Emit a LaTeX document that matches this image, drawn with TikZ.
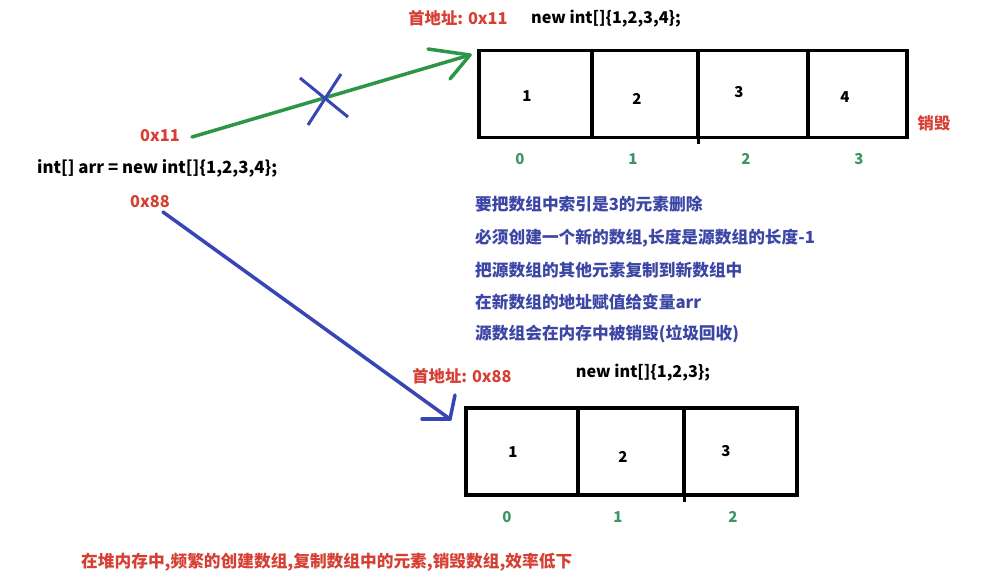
\documentclass[tikz,border=0pt]{standalone}
\usepackage{fontspec}
\setmainfont{Noto Sans CJK SC}
\definecolor{cred}{RGB}{214,64,52}
\definecolor{cgreen}{RGB}{60,150,100}
\definecolor{carrg}{RGB}{45,150,70}
\definecolor{cblue}{RGB}{60,70,165}
\definecolor{carrb}{RGB}{55,70,180}
\begin{document}
\begin{tikzpicture}[x=1pt,y=-1pt,
  cell/.style={draw=black,line width=3.5,minimum height=87,inner sep=0,outer sep=0},
  num/.style={font=\fontsize{15}{15}\selectfont\bfseries,inner sep=0},
  idx/.style={font=\fontsize{15}{15}\selectfont\bfseries,text=cgreen,inner sep=0},
  redt/.style={font=\fontsize{16.3}{16.3}\selectfont\bfseries,text=cred,inner sep=0},
  code/.style={font=\fontsize{16.2}{16.2}\selectfont\bfseries,text=black,inner sep=0},
  note/.style={font=\fontsize{16.7}{16.7}\selectfont\bfseries,text=cblue,inner sep=0,anchor=west},
  garrow/.style={draw=carrg,line width=3.5,line cap=round,line join=round},
  barrow/.style={draw=carrb,line width=3.5,line cap=round,line join=round}]
\useasboundingbox (0,0) rectangle (984,580);
\fill[white] (0,0) rectangle (984,580);
% top array
\node[cell,minimum width=113] (t0) at (535.5,94) {};
\node[cell,minimum width=106] (t1) at (645,94) {};
\node[cell,minimum width=110] (t2) at (753,94) {};
\node[cell,minimum width=99] (t3) at (857.5,94) {};
\draw[line width=3] (t2.south west) -- ++(0,7);
\node[num] (v0) at (527,96) {1};
\node[num] (v1) at (637,99) {2};
\node[num] (v2) at (739,92) {3};
\node[num] (v3) at (845,97) {4};
\node[idx] (i0) at (520,159) {0};
\node[idx] (i1) at (633,159) {1};
\node[idx] (i2) at (746,159) {2};
\node[idx] (i3) at (859,159) {3};
\node[redt] (destroy) at (934,123) {销毁};
\node[redt] (addr1) at (458,18) {首地址: 0x11};
\node[code] (new1) at (606,19) {new int[]\{1,2,3,4\};};
% left code
\node[redt] (p11) at (160,136) {0x11};
\node[code,anchor=west,font=\fontsize{16.8}{16.8}\selectfont\bfseries] (decl) at (37,168) {int[] arr = new int[]\{1,2,3,4\};};
\node[redt] (p88) at (150,202) {0x88};
% green arrow (crossed out)
\coordinate (gs) at (192,137);
\coordinate (gt) at (470,55);
\draw[garrow] (gs) -- (gt);
\draw[garrow] (gt) -- ++(-42,-6);
\draw[garrow] (gt) -- ++(-20,24);
\draw[draw=carrb,line width=3] (300,78) -- (348,117);
\draw[draw=carrb,line width=3] (341,74) -- (308,125);
% notes
\node[note] (n1) at (475,204) {要把数组中索引是3的元素删除};
\node[note] (n2) at (475,238) {必须创建一个新的数组,长度是源数组的长度-1};
\node[note] (n3) at (475,270) {把源数组的其他元素复制到新数组中};
\node[note] (n4) at (475,302) {在新数组的地址赋值给变量arr};
\node[note] (n5) at (475,334) {源数组会在内存中被销毁(垃圾回收)};
% blue arrow
\coordinate (bs) at (163,212);
\coordinate (bt) at (450,419);
\draw[barrow] (bs) -- (bt);
\draw[barrow] (bt) -- ++(-28,0);
\draw[barrow] (bt) -- ++(5,-24);
% bottom array
\node[cell,minimum width=112] (b0) at (522,451.5) {};
\node[cell,minimum width=106] (b1) at (631,451.5) {};
\node[cell,minimum width=113] (b2) at (740.5,451.5) {};
\draw[line width=3] (b2.south west) -- ++(0,7);
\node[num] (w0) at (513,452) {1};
\node[num] (w1) at (623,457) {2};
\node[num] (w2) at (726,451) {3};
\node[idx] (j0) at (507,517) {0};
\node[idx] (j1) at (618,517) {1};
\node[idx] (j2) at (733,517) {2};
\node[redt] (addr2) at (462,376) {首地址: 0x88};
\node[code] (new2) at (643,373) {new int[]\{1,2,3\};};
% bottom note
\node[redt,anchor=west,font=\fontsize{16.7}{16.7}\selectfont\bfseries] (concl) at (81,562) {在堆内存中,频繁的创建数组,复制数组中的元素,销毁数组,效率低下};
\end{tikzpicture}
\end{document}
